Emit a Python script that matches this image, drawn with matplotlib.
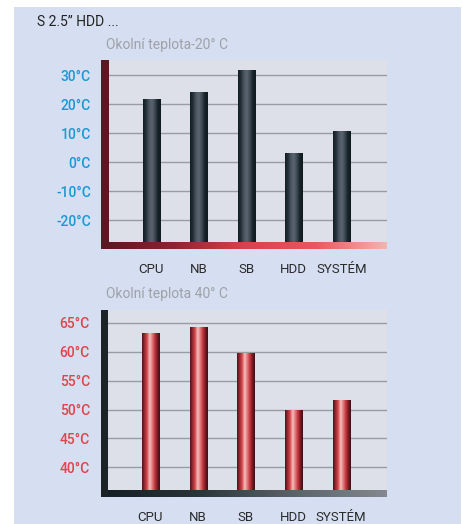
import numpy as np
import matplotlib.pyplot as plt
from matplotlib.colors import LinearSegmentedColormap
from matplotlib.patches import Rectangle

plt.rcParams['font.family'] = ['Roboto', 'DejaVu Sans']

categories = ["CPU", "NB", "SB", "HDD", "SYSTÉM"]
temps_cold = [21.5, 24.2, 31.8, 3.2, 10.8]
temps_hot = [63.2, 64.1, 59.6, 49.9, 51.5]
ticks_cold = [30, 20, 10, 0, -10, -20]
ticks_hot = [65, 60, 55, 50, 45, 40]

W, H = 464, 524
fig = plt.figure(figsize=(W / 100, H / 100), dpi=100, facecolor="white")

# light blue panel behind everything
fig.patches.append(Rectangle((14 / W, 0), 447 / W, (H - 7) / H, transform=fig.transFigure,
                             facecolor="#d6dff1", edgecolor="none", zorder=-10))


def box(x0, y0, x1, y1):
    # pixel box (top-left origin) -> figure fraction rect
    return [x0 / W, (H - y1) / H, (x1 - x0) / W, (y1 - y0) / H]


def strip(rect, colors):
    a = fig.add_axes(box(*rect))
    cmap = LinearSegmentedColormap.from_list("s", colors)
    a.imshow(np.linspace(0, 1, 256).reshape(1, -1), cmap=cmap, aspect="auto")
    a.axis("off")
    return a


bar_dark = LinearSegmentedColormap.from_list(
    "dark", ["#101c22", "#24323a", "#4c5662", "#5c6673", "#3e4852", "#16242a", "#0e1a20"])
bar_red = LinearSegmentedColormap.from_list(
    "red", ["#4a121a", "#9a2a32", "#d8484e", "#f2c4c2", "#e27a7c", "#c8363e", "#7a1c24", "#3e0e14"])


def chart(rect, values, ticks, ylim, tick_color, cmap, title, title_y):
    ax = fig.add_axes(box(*rect))
    ax.set_facecolor("#dde0e8")
    x = np.arange(len(values))
    w = 0.36
    for xi, v in zip(x, values):
        ax.imshow(np.linspace(0, 1, 64).reshape(1, -1), cmap=cmap, aspect="auto",
                  extent=(xi - w / 2, xi + w / 2, ylim[0], v), zorder=3, interpolation="bicubic")
    for t in ticks:
        ax.axhline(t, color="#989ca4", lw=1.0, zorder=1)
    ax.set_xlim(-0.89, 4.96)
    ax.set_ylim(*ylim)
    ax.set_yticks(ticks)
    ax.set_yticklabels([f"{t}°C" for t in ticks], color=tick_color, fontsize=10,
                       fontweight="medium")
    ax.set_xticks(x)
    ax.set_xticklabels(categories, color="#2a2a2a", fontsize=9.5)
    ax.tick_params(axis="y", length=0, pad=13)
    ax.tick_params(axis="x", length=0, pad=15)
    for s in ax.spines.values():
        s.set_visible(False)
    fig.text(106 / W, 1 - title_y / H, title, color="#9ea2a8", fontsize=10, va="center")
    return ax


chart((109, 60, 387, 242), temps_cold, ticks_cold, (-27.5, 35.3), "#1a98d6", bar_dark,
      "Okolní teplota-20° C", 45)
strip((101, 242, 387, 249), ["#5a1620", "#8a2430", "#d8424a", "#e8585c", "#f4b4b0"])
strip((101, 60, 109, 249), ["#5c1822", "#5c1822"])

chart((108, 310, 387, 490), temps_hot, ticks_hot, (36.1, 67.2), "#e2444c", bar_red,
      "Okolní teplota 40° C", 294)
strip((101, 490, 387, 497), ["#162024", "#2a3438", "#5a6268", "#848890"])
strip((101, 310, 108, 497), ["#1c2428", "#1c2428"])

fig.text(37 / W, 1 - 22 / H, "S 2.5” HDD ...", color="#222222", fontsize=10, va="center")

fig.savefig("out.png", dpi=100, facecolor="white")
